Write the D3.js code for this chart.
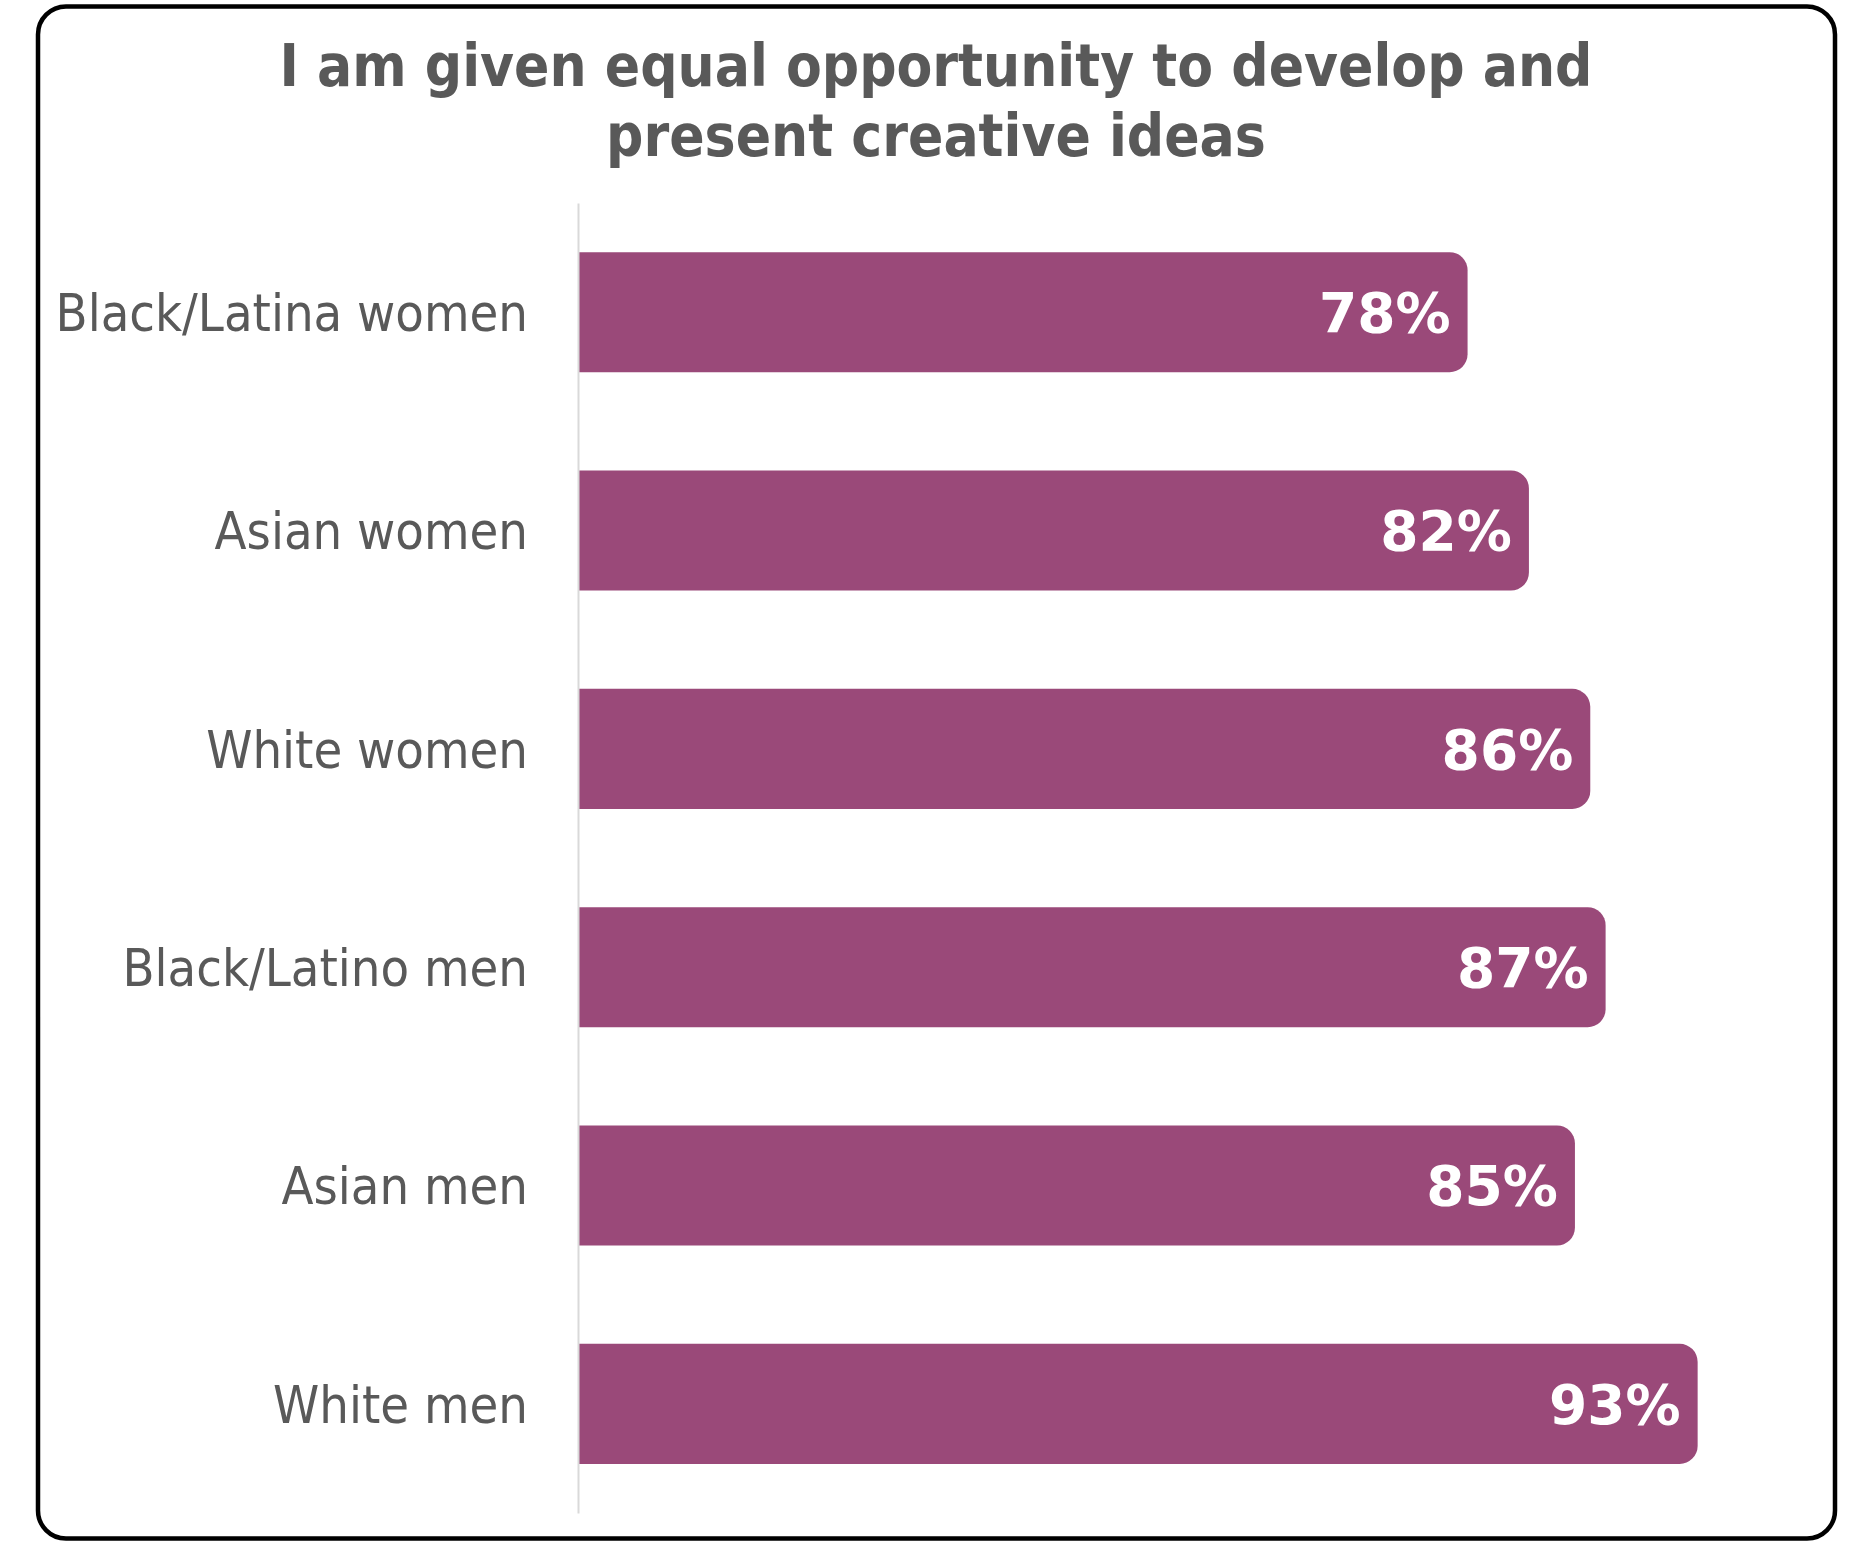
<!DOCTYPE html>
<html>
<head>
<meta charset="utf-8">
<script src="https://cdn.jsdelivr.net/npm/d3@7"></script>
<style>
  html, body { margin: 0; padding: 0; background: #fff; }
  svg { display: block; }
</style>
</head>
<body>
<svg id="chart" width="1856" height="1541"></svg>
<script>
// Survey groups, top to bottom
const categories = [
  "Black/Latina women",
  "Asian women",
  "White women",
  "Black/Latino men",
  "Asian men",
  "White men"
];
// Share agreeing, in percent
const values = [78, 82, 86, 87, 85, 93];
// Value axis runs from 20% to 100%
const xDomain = [20, 100];
const titleLines = [
  "I am given equal opportunity to develop and",
  "present creative ideas"
];

const barColor = "#9A4979";
const textColor = "#595959";

const svg = d3.select("#chart");

// Rounded frame around the chart
svg.append("rect")
  .attr("x", 38).attr("y", 6.5)
  .attr("width", 1797).attr("height", 1532)
  .attr("rx", 28).attr("ry", 28)
  .attr("fill", "#fff")
  .attr("stroke", "#000")
  .attr("stroke-width", 4.5);

// Title
svg.append("text")
  .attr("x", 936)
  .attr("text-anchor", "middle")
  .attr("font-family", "'DejaVu Sans Condensed', 'DejaVu Sans', sans-serif")
  .attr("font-weight", "bold")
  .attr("font-size", 58)
  .attr("fill", textColor)
  .selectAll("tspan")
  .data(titleLines)
  .join("tspan")
  .attr("x", 936)
  .attr("y", (d, i) => 86 + i * 70)
  .text(d => d);

const x = d3.scaleLinear().domain(xDomain).range([578, 1805]);
const y = d3.scaleBand()
  .domain(categories)
  .range([203, 1513])
  .paddingInner(0.45)
  .paddingOuter(0.225);

// Bars: square at the axis, rounded at the value end
const r = 18;
function barPath(d, i) {
  const x0 = x(xDomain[0]) + 1;
  const x1 = x(values[i]);
  const y0 = y(d);
  const h = y.bandwidth();
  return `M${x0},${y0}H${x1 - r}A${r},${r} 0 0 1 ${x1},${y0 + r}` +
         `V${y0 + h - r}A${r},${r} 0 0 1 ${x1 - r},${y0 + h}H${x0}Z`;
}

svg.append("g")
  .selectAll("path")
  .data(categories)
  .join("path")
  .attr("d", barPath)
  .attr("fill", barColor);

// Category axis
const yAxis = d3.axisLeft(y).tickSize(0).tickPadding(50);
const gy = svg.append("g")
  .attr("transform", `translate(${x(xDomain[0])},0)`)
  .call(yAxis);
gy.select(".domain")
  .attr("stroke", "#D9D9D9")
  .attr("stroke-width", 2);
gy.selectAll("text")
  .attr("font-family", "'DejaVu Sans Condensed', 'DejaVu Sans', sans-serif")
  .attr("font-size", 52)
  .attr("fill", textColor)
  .attr("dy", "0.36em");

// Value labels inside bar ends
svg.append("g")
  .selectAll("text")
  .data(categories)
  .join("text")
  .attr("x", (d, i) => x(values[i]) - 17)
  .attr("y", d => y(d) + y.bandwidth() / 2)
  .attr("dy", "0.36em")
  .attr("text-anchor", "end")
  .attr("font-family", "'DejaVu Sans', sans-serif")
  .attr("font-weight", "bold")
  .attr("font-size", 55)
  .attr("fill", "#fff")
  .text((d, i) => values[i] + "%");
</script>
</body>
</html>
